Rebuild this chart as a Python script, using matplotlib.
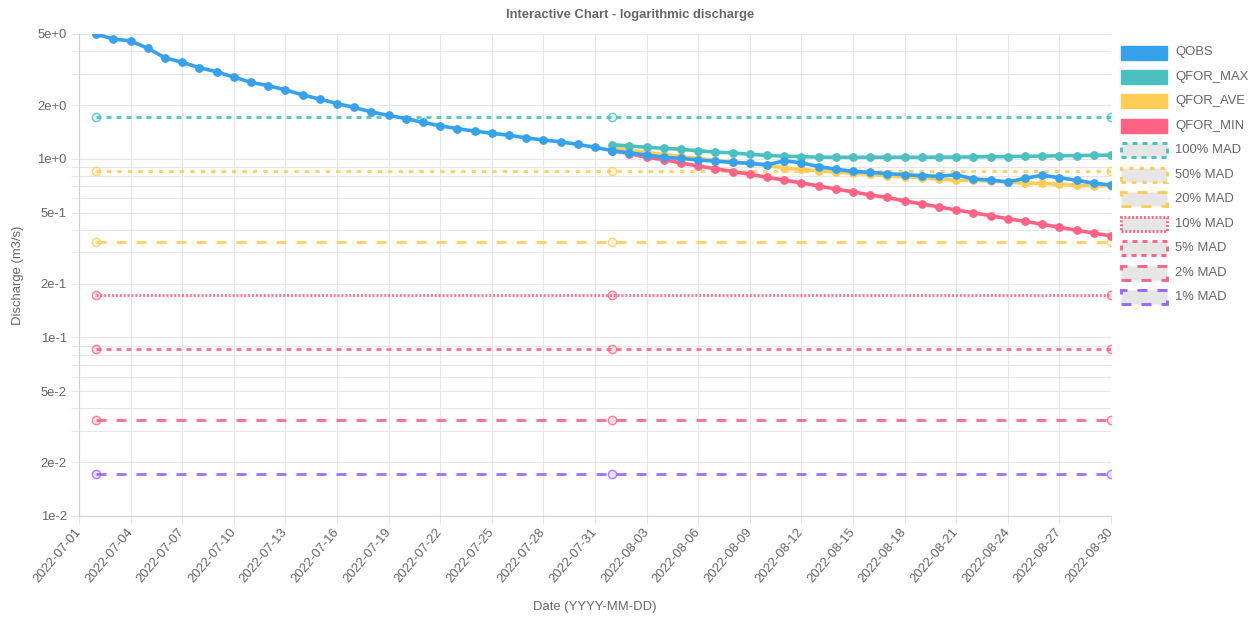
import pandas as pd
import matplotlib
matplotlib.use('Agg')
import matplotlib.pyplot as plt
import matplotlib.dates as mdates
from matplotlib.colors import to_rgba
from matplotlib.patches import Rectangle
from matplotlib.ticker import FixedLocator, LogLocator, NullFormatter

plt.rcParams['font.family'] = ['Liberation Sans', 'DejaVu Sans']
plt.rcParams['lines.scale_dashes'] = False

# Data ################
obs_dates = pd.date_range('2022-07-02', '2022-08-30', freq='D')
qobs = [4.98, 4.69, 4.57, 4.16, 3.68, 3.47, 3.24, 3.07, 2.87, 2.68,
        2.57, 2.43, 2.28, 2.16, 2.04, 1.94, 1.83, 1.75, 1.68, 1.60,
        1.53, 1.475, 1.43, 1.39, 1.355, 1.31, 1.275, 1.245, 1.205, 1.16,
        1.11, 1.08, 1.05, 1.02, 1.005, 0.985, 0.97, 0.955, 0.945, 0.925,
        0.975, 0.95, 0.905, 0.875, 0.85, 0.84, 0.826, 0.815, 0.805, 0.798,
        0.815, 0.771, 0.761, 0.742, 0.778, 0.809, 0.784, 0.758, 0.730, 0.714]

for_dates = pd.date_range('2022-08-01', '2022-08-30', freq='D')
qfor_max = [1.20, 1.18, 1.16, 1.145, 1.13, 1.11, 1.09, 1.08, 1.06, 1.045,
            1.035, 1.028, 1.022, 1.02, 1.02, 1.02, 1.02, 1.02, 1.02, 1.022,
            1.022, 1.025, 1.028, 1.03, 1.033, 1.036, 1.04, 1.043, 1.046, 1.05]
qfor_ave = [1.153, 1.121, 1.085, 1.057, 1.031, 1.004, 0.981, 0.960, 0.942, 0.918,
            0.889, 0.872, 0.857, 0.844, 0.830, 0.819, 0.801, 0.794, 0.784, 0.771,
            0.758, 0.758, 0.751, 0.742, 0.730, 0.730, 0.720, 0.711, 0.707, 0.707]
qfor_min = [1.111, 1.069, 1.020, 0.989, 0.948, 0.912, 0.880, 0.849, 0.819, 0.788,
            0.761, 0.732, 0.706, 0.676, 0.654, 0.627, 0.608, 0.581, 0.559, 0.538,
            0.517, 0.499, 0.480, 0.462, 0.447, 0.430, 0.414, 0.398, 0.384, 0.370]

mad_dates = pd.to_datetime(['2022-07-02', '2022-08-01', '2022-08-30'])
mad_names = ['100% MAD', '50% MAD', '20% MAD', '10% MAD', '5% MAD', '2% MAD', '1% MAD']
mad_values = [1.72, 0.86, 0.344, 0.172, 0.086, 0.0344, 0.0172]

y_ticks = [0.01, 0.02, 0.05, 0.1, 0.2, 0.5, 1, 2, 5]
y_tick_labels = ['1e-2', '2e-2', '5e-2', '1e-1', '2e-1', '5e-1', '1e+0', '2e+0', '5e+0']
x_ticks = pd.date_range('2022-07-01', '2022-08-30', freq='3D')
#########################

BLUE = '#36A2EB'
TEAL = '#4BC0C0'
YELLOW = '#FFCD56'
RED = '#FF6384'
PURPLE = '#9966FF'
GRID = '#e6e6e6'
TXT = '#666666'
FS = 9.4  # ~13px

mad_colors = [TEAL, YELLOW, YELLOW, RED, RED, RED, PURPLE]
mad_dashes = [(3.6, 3.6), (3.2, 4.3), (7.2, 7.2), (1.4, 1.4), (3.6, 3.6), (7.2, 7.2), (7.2, 7.2)]

W, H = 1260, 621
fig = plt.figure(figsize=(W / 100, H / 100), dpi=100)
fig.patch.set_facecolor('white')

def fx(px):
    return px / W

def fy(py):
    return 1 - py / H

ax = fig.add_axes([fx(79), fy(516), fx(1111) - fx(79), fy(34) - fy(516)])
ax.set_yscale('log')
ax.set_ylim(0.01, 5)
ax.set_xlim(pd.Timestamp('2022-07-01'), pd.Timestamp('2022-08-30'))

# MAD lines (drawn first, at the back)
for name, val, col, dash in zip(mad_names, mad_values, mad_colors, mad_dashes):
    ax.plot(mad_dates, [val] * len(mad_dates), color=to_rgba(col, 0.9), lw=2.1,
            linestyle=(0, dash), marker='o', markersize=6,
            markerfacecolor=to_rgba(col, 0.2),
            markeredgecolor=to_rgba(col, 0.8), markeredgewidth=1.0, zorder=2)

ax.plot(for_dates, qfor_min, color=RED, lw=2.6, marker='o', markersize=5.3, zorder=3)
ax.plot(for_dates, qfor_ave, color=YELLOW, lw=2.6, marker='o', markersize=5.3, zorder=4)
ax.plot(for_dates, qfor_max, color=TEAL, lw=2.6, marker='o', markersize=5.3, zorder=5)
ax.plot(obs_dates, qobs, color=BLUE, lw=2.6, marker='o', markersize=5.3, zorder=6)

# axes styling
ax.yaxis.set_major_locator(FixedLocator(y_ticks))
ax.set_yticklabels(y_tick_labels)
ax.yaxis.set_minor_locator(LogLocator(base=10, subs=[3, 4, 6, 7, 8, 9]))
ax.yaxis.set_minor_formatter(NullFormatter())
ax.set_xticks(x_ticks)
ax.xaxis.set_major_formatter(mdates.DateFormatter('%Y-%m-%d'))
ax.grid(True, which='both', color=GRID, lw=0.8, zorder=0)
ax.set_axisbelow(True)
ax.tick_params(which='both', length=5.8, width=0.8, color=GRID,
               labelcolor=TXT, labelsize=FS)
ax.tick_params(axis='y', pad=3)
ax.tick_params(axis='x', pad=4)
for lab in ax.get_xticklabels():
    lab.set_rotation(50)
    lab.set_ha('right')
    lab.set_va('center')
    lab.set_rotation_mode('anchor')
for side in ['top', 'right']:
    ax.spines[side].set_visible(False)
for side in ['left', 'bottom']:
    ax.spines[side].set_color('#d0d0d0')
    ax.spines[side].set_linewidth(0.8)

fig.text(0.5, fy(15), 'Interactive Chart - logarithmic discharge', ha='center', va='center',
         fontsize=FS, fontweight='bold', color=TXT)
fig.text(fx(595), fy(607), 'Date (YYYY-MM-DD)', ha='center', va='center', fontsize=FS, color=TXT)
fig.text(fx(18), fy(275), 'Discharge (m3/s)', ha='center', va='center', rotation=90,
         fontsize=FS, color=TXT)

# legend, drawn by hand like the Chart.js one
series_names = ['QOBS', 'QFOR_MAX', 'QFOR_AVE', 'QFOR_MIN']
series_colors = [BLUE, TEAL, YELLOW, RED]
row0, step = 52.5, 24.45
bx, bw, bh = 1121, 46, 14
for i, (name, col) in enumerate(zip(series_names, series_colors)):
    cy = row0 + i * step
    fig.add_artist(Rectangle((fx(bx), fy(cy + bh / 2)), bw / W, bh / H, transform=fig.transFigure,
                             facecolor=col, edgecolor=col, lw=1))
    fig.text(fx(1175), fy(cy), name, ha='left', va='center', fontsize=FS, color=TXT)
for j, (name, col, dash) in enumerate(zip(mad_names, mad_colors, mad_dashes)):
    cy = row0 + (j + 4) * step
    fig.add_artist(Rectangle((fx(bx), fy(cy + bh / 2)), bw / W, bh / H, transform=fig.transFigure,
                             facecolor='#e6e6e6', edgecolor=col, lw=2.1,
                             linestyle=(0, dash)))
    fig.text(fx(1175), fy(cy), name, ha='left', va='center', fontsize=FS, color=TXT)

fig.savefig('out.png', dpi=100, facecolor='white')
